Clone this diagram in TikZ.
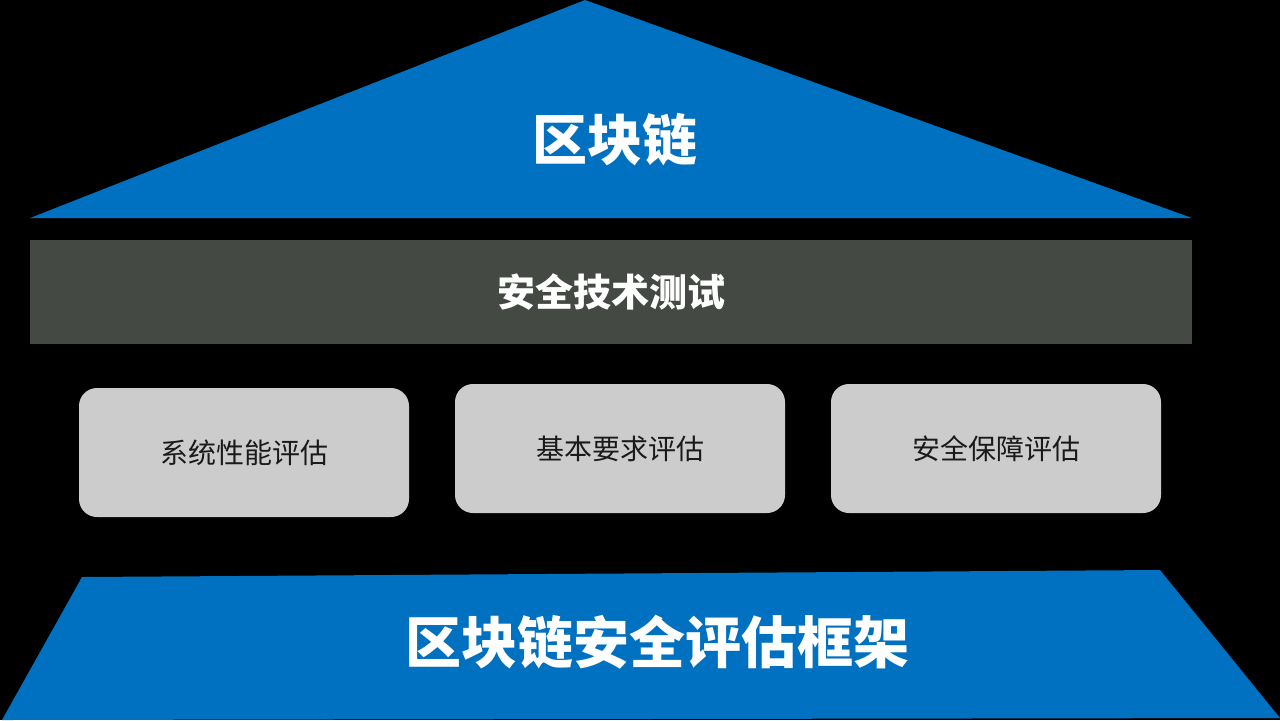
\documentclass[tikz,border=0pt]{standalone}
\usepackage{fontspec}
\newfontfamily\cjk{Noto Sans CJK SC}
\usetikzlibrary{positioning}
\definecolor{chainBlue}{HTML}{0070C0}
\definecolor{barGray}{HTML}{444944}
\definecolor{boxGray}{HTML}{CCCCCC}
\definecolor{boxText}{HTML}{1A1A1A}
\tikzset{
    roofPart/.style={fill=chainBlue},
    basePart/.style={fill=chainBlue},
    bigTitle/.style={text=white, inner sep=0pt, font=\cjk\bfseries\fontsize{27.5}{32}\selectfont},
    barPart/.style={rectangle, fill=barGray, text=white, minimum width=581pt, minimum height=52pt, inner sep=0pt, font=\cjk\bfseries\fontsize{19}{23}\selectfont},
    evalBox/.style={rectangle, rounded corners=9pt, fill=boxGray, text=boxText, minimum width=165pt, minimum height=64.5pt, inner sep=0pt, font=\cjk\fontsize{14}{17}\selectfont},
}
\begin{document}
\begin{tikzpicture}[x=0.5pt, y=-0.5pt]

        % background and frame
        \fill[black] (0,0) rectangle (1280,720);
        \useasboundingbox (0,0) rectangle (1280,720);

        % roof
        \fill[roofPart] (585,0) -- (1192,218) -- (30,218) -- cycle;
        \node[bigTitle] (roof) at (615,140) {区块链};

        % beam
        \node[barPart] (bar) at (611,292) {安全技术测试};

        % pillars
        \node[evalBox] (perf) at (244,452.5) {系统性能评估};
        \node[evalBox] (basic) at (620,448.5) {基本要求评估};
        \node[evalBox] (guard) at (996,448.5) {安全保障评估};

        % base
        \fill[basePart] (82,577) -- (1160,570) -- (1280,718) -- (2,720) -- cycle;
        \node[bigTitle, font=\cjk\bfseries\fontsize{28}{33}\selectfont] (base) at (657,642) {区块链安全评估框架};

    \end{tikzpicture}
\end{document}
